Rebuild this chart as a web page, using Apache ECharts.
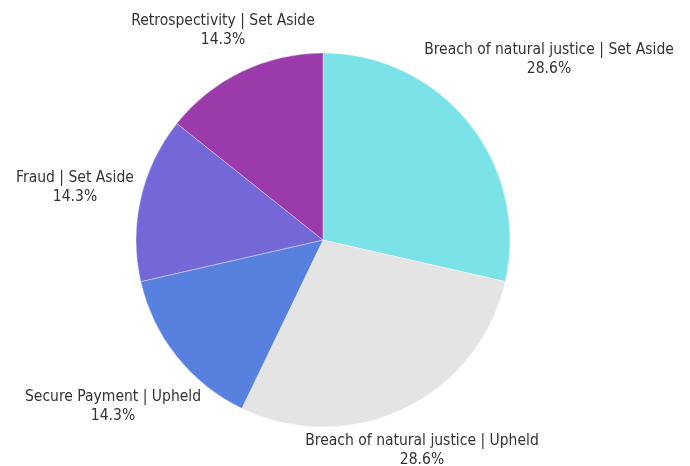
<!DOCTYPE html>
<html>
<head>
<meta charset="utf-8">
<script src="https://cdn.jsdelivr.net/npm/echarts@6/dist/echarts.min.js"></script>
<style>html,body{margin:0;padding:0;background:#fff;}#c{width:690px;height:466px;}</style>
</head>
<body>
<div id="c"></div>
<script>
const categories = [
  'Breach of natural justice | Set Aside',
  'Breach of natural justice | Upheld',
  'Secure Payment | Upheld',
  'Fraud | Set Aside',
  'Retrospectivity | Set Aside'
];
const values = [2, 2, 1, 1, 1];
const colors = ['#7BE3E8', '#E4E4E4', '#5880DE', '#7468D8', '#9A3AAB'];
// label centre positions (layout only)
const labelPos = [[549, 59], [422, 450], [113, 406], [75, 187], [223, 30]];

const chart = echarts.init(document.getElementById('c'));
chart.setOption({
  animation: false,
  series: [{
    type: 'pie',
    center: [323, 240],
    radius: 187,
    startAngle: 90,
    clockwise: true,
    data: categories.map((n, i) => ({ name: n, value: values[i], itemStyle: { color: colors[i] } })),
    itemStyle: { borderColor: 'rgba(255,255,255,0.6)', borderWidth: 0.6 },
    label: {
      show: true,
      position: 'outside',
      formatter: p => p.name + '\n' + p.percent.toFixed(1) + '%',
      fontFamily: '"Liberation Sans Narrow", "DejaVu Sans Condensed", sans-serif',
      fontSize: 15.5,
      lineHeight: 19,
      color: '#333',
      align: 'center',
      overflow: 'none',
      width: 400
    },
    labelLine: { show: false },
    labelLayout: p => ({ x: labelPos[p.dataIndex][0], y: labelPos[p.dataIndex][1], align: 'center', verticalAlign: 'middle' }),
    emphasis: { disabled: true }
  }]
});
</script>
</body>
</html>
